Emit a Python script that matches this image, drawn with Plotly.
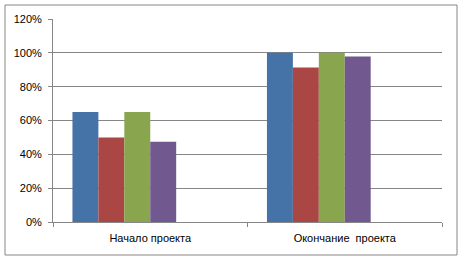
import plotly.graph_objects as go

categories = ["Начало проекта", "Окончание  проекта"]
series1 = [0.65, 1.00]
series2 = [0.50, 0.913]
series3 = [0.65, 1.00]
series4 = [0.475, 0.978]
empty = [None, None]
colors = ["#4572A7", "#AA4643", "#89A54E", "#71588F"]
y_ticks = [0, 0.2, 0.4, 0.6, 0.8, 1.0, 1.2]

W, H = 462, 261
ml, mr, mt, mb = 53, 20, 19, 39

fig = go.Figure()
for vals, c in zip([series1, series2, series3, series4], colors):
    fig.add_trace(go.Bar(x=categories, y=vals, marker=dict(color=c, line=dict(width=0)), showlegend=False))
for _ in range(2):
    fig.add_trace(go.Bar(x=categories, y=empty, showlegend=False, hoverinfo="skip"))

pw = W - ml - mr
ph = H - mt - mb
fig.add_shape(type="rect", xref="paper", yref="paper",
              x0=(5 - ml) / pw, x1=(457 - ml) / pw,
              y0=(H - mb - 255) / ph, y1=(H - mb - 5) / ph,
              line=dict(color="#868686", width=1), fillcolor="rgba(0,0,0,0)", layer="below")

fig.update_layout(
    width=W, height=H,
    margin=dict(l=ml, r=mr, t=mt, b=mb, pad=0, autoexpand=False),
    paper_bgcolor="white", plot_bgcolor="white",
    barmode="group", bargap=0.2, bargroupgap=0,
    font=dict(family="Liberation Sans, Arial, sans-serif", size=11, color="#000000"),
    showlegend=False,
)
fig.update_yaxes(range=[0, 1.2], tickvals=y_ticks, tickformat=".0%",
                 showgrid=True, gridcolor="#868686", gridwidth=1,
                 showline=True, linecolor="#868686", linewidth=1,
                 ticks="outside", ticklen=4, tickcolor="#868686",
                 zeroline=False, ticklabelstandoff=4, fixedrange=True, automargin=False)
fig.update_xaxes(showline=True, linecolor="#868686", linewidth=1,
                 ticks="outside", ticklen=4, tickcolor="#868686",
                 tickson="boundaries", showgrid=False,
                 ticklabelstandoff=6, fixedrange=True, automargin=False)

fig.write_html("out.html", config={"displayModeBar": False},
               post_script="document.body.style.margin='0';document.body.style.padding='0';")
